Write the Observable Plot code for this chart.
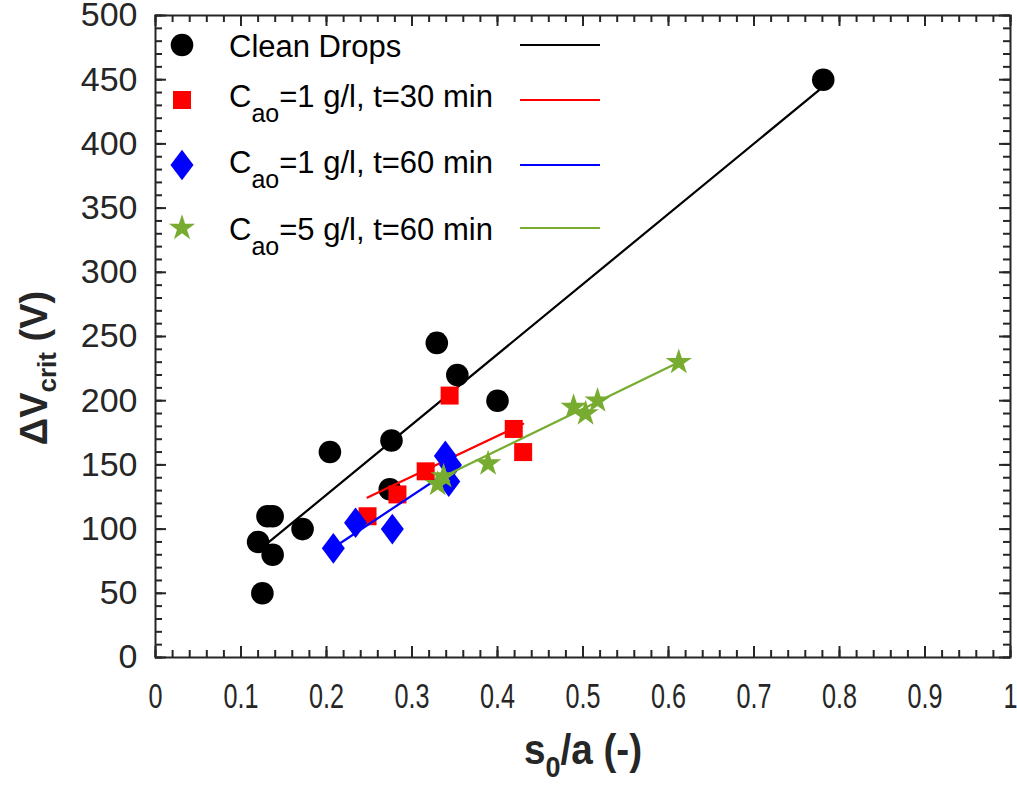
<!DOCTYPE html>
<html><head><meta charset="utf-8">
<script src="https://cdn.jsdelivr.net/npm/d3@7"></script>
<script src="https://cdn.jsdelivr.net/npm/@observablehq/plot@0.6"></script>
<style>body{margin:0;background:#fff;font-family:"Liberation Sans",Arial,sans-serif}</style>
</head><body><div id="chart"></div><script>
// ---- data ----
const cleanX = [0.781, 0.329, 0.353, 0.400, 0.204, 0.276, 0.274, 0.131, 0.137, 0.172, 0.120, 0.137, 0.125];
const cleanY = [450, 245, 220, 200, 160, 169, 131, 110, 110, 100, 90, 80, 50];
const c1t30X = [0.344, 0.419, 0.430, 0.316, 0.283, 0.248];
const c1t30Y = [204, 178, 160, 145, 127, 110];
const c1t60X = [0.208, 0.234, 0.277, 0.339, 0.345, 0.343];
const c1t60Y = [85, 105, 100, 157, 150, 137];
const c5t60X = [0.612, 0.517, 0.489, 0.503, 0.389, 0.330, 0.337];
const c5t60Y = [230, 200, 195, 190, 151, 135, 141];
// fitted lines (end points)
const cleanFitX = [0.12, 0.78], cleanFitY = [83, 444];
const c1t30FitX = [0.248, 0.43], c1t30FitY = [124.6, 182];
const c1t60FitX = [0.208, 0.345], c1t60FitY = [85.5, 146];
const c5t60FitX = [0.325, 0.612], c5t60FitY = [137, 230];
// ticks
const xTicks = [0, 0.1, 0.2, 0.3, 0.4, 0.5, 0.6, 0.7, 0.8, 0.9, 1];
const xTickLabels = ["0", "0.1", "0.2", "0.3", "0.4", "0.5", "0.6", "0.7", "0.8", "0.9", "1"];
const yTicks = [0, 50, 100, 150, 200, 250, 300, 350, 400, 450, 500];
const xMinor = d3.range(0, 51).map(i => i / 50);
const yMinor = d3.range(0, 51).map(i => i * 10);

const seriesNames = ["Clean Drops", "C_ao=1 g/l, t=30 min", "C_ao=1 g/l, t=60 min", "C_ao=5 g/l, t=60 min"];
const colors = ["#000000", "#ff0000", "#0000ff", "#77ac30"];

// ---- symbols ----
const squareSym = {draw(ctx, size) { const r = Math.sqrt(size / Math.PI); ctx.rect(-r, -r, 2 * r, 2 * r); }};
const diamondSym = {draw(ctx, size) { const r = Math.sqrt(size / Math.PI); ctx.moveTo(0, -r * 1.33); ctx.lineTo(r, 0); ctx.lineTo(0, r * 1.33); ctx.lineTo(-r, 0); ctx.closePath(); }};
const starSym = {draw(ctx, size) { const R = Math.sqrt(size / Math.PI), ri = R * 0.382;
  for (let i = 0; i < 10; i++) { const a = -Math.PI / 2 + i * Math.PI / 5, rr = i % 2 ? ri : R;
    if (i) ctx.lineTo(rr * Math.cos(a), rr * Math.sin(a)); else ctx.moveTo(rr * Math.cos(a), rr * Math.sin(a)); }
  ctx.closePath(); }};
const circleSym = {draw(ctx, size) { const r = Math.sqrt(size / Math.PI); ctx.moveTo(r, 0); ctx.arc(0, 0, r, 0, 2 * Math.PI); }};
const symbols = [circleSym, squareSym, diamondSym, starSym];
const radii = [11.3, 9, 11.5, 13.8];

const pts = (xs, ys) => xs.map((x, i) => ({x, y: ys[i]}));
const series = [
  [pts(cleanX, cleanY), pts(cleanFitX, cleanFitY)],
  [pts(c1t30X, c1t30Y), pts(c1t30FitX, c1t30FitY)],
  [pts(c1t60X, c1t60Y), pts(c1t60FitX, c1t60FitY)],
  [pts(c5t60X, c5t60Y), pts(c5t60FitX, c5t60FitY)]
];

const W = 1017, H = 788, mL = 155, mR = 7, mT = 15, mB = 131;
const fw = W - mL - mR, fh = H - mT - mB;
const axisColor = "#262626";
const marks = [];
// inward ticks on all four sides (full-frame ticks trimmed by insets)
const tk = {stroke: axisColor, strokeWidth: 2};
for (const [ticks, len] of [[xMinor, 7], [xTicks, 11]]) {
  marks.push(Plot.tickX(ticks, {...tk, x: d => d, insetTop: fh - len}));
  marks.push(Plot.tickX(ticks, {...tk, x: d => d, insetBottom: fh - len}));
}
for (const [ticks, len] of [[yMinor, 7], [yTicks, 11]]) {
  marks.push(Plot.tickY(ticks, {...tk, y: d => d, insetRight: fw - len}));
  marks.push(Plot.tickY(ticks, {...tk, y: d => d, insetLeft: fw - len}));
}
marks.push(Plot.axisX(xTicks, {anchor: "bottom", tickSize: 0, tickPadding: 25, tickFormat: (d, i) => xTickLabels[i], fontSize: 36, fill: axisColor, label: null}));
marks.push(Plot.axisY(yTicks, {anchor: "left", tickSize: 0, tickPadding: 18, tickFormat: d => String(d), fontSize: 34, fill: axisColor, label: null}));
series.forEach(([p, f], i) => {
  marks.push(Plot.dot(p, {x: "x", y: "y", r: radii[i], symbol: symbols[i], fill: colors[i], stroke: "none"}));
  marks.push(Plot.line(f, {x: "x", y: "y", stroke: colors[i], strokeWidth: 2.2}));
});
marks.push(Plot.frame({stroke: axisColor, strokeWidth: 2}));

const chart = Plot.plot({
  width: W, height: H,
  marginLeft: mL, marginRight: mR, marginTop: mT, marginBottom: mB,
  x: {domain: [0, 1]}, y: {domain: [0, 500]},
  style: {fontFamily: "'Liberation Sans', Arial, sans-serif", background: "white", overflow: "visible"},
  marks
});
document.getElementById("chart").appendChild(chart);

const svg = d3.select(chart);
// condensed x tick labels
svg.selectAll('g[aria-label="x-axis tick label"] text').each(function () {
  const t = d3.select(this); t.attr("transform", (t.attr("transform") || "") + " scale(0.7,1)");
});

// axis titles
const ylab = svg.append("text").attr("transform", "translate(47,368) rotate(-90)")
  .attr("text-anchor", "middle").attr("font-weight", "bold").attr("font-size", 38).attr("fill", axisColor);
ylab.append("tspan").text("\u0394V");
ylab.append("tspan").attr("font-size", 26).attr("dy", 9).text("crit");
ylab.append("tspan").attr("dy", -9).text(" (V)");

const xlab = svg.append("text").attr("transform", "translate(583,764) scale(0.9,1)")
  .attr("text-anchor", "middle").attr("font-weight", "bold").attr("font-size", 43).attr("fill", axisColor);
xlab.append("tspan").text("s");
xlab.append("tspan").attr("font-size", 30).attr("dy", 13).text("0");
xlab.append("tspan").attr("dy", -13).text("/a (-)");

// legend (inside the axes)
const rowSym = [45, 100, 165, 228], rowBase = [57, 107, 173, 240];
const leg = svg.append("g").attr("text-anchor", "start");
seriesNames.forEach((name, i) => {
  const path = d3.path(); symbols[i].draw(path, Math.PI * radii[i] * radii[i]);
  leg.append("path").attr("d", path.toString()).attr("transform", `translate(182,${rowSym[i]})`).attr("fill", colors[i]);
  leg.append("line").attr("x1", 520).attr("x2", 600).attr("y1", rowSym[i]).attr("y2", rowSym[i]).attr("stroke", colors[i]).attr("stroke-width", 2.2);
  const t = leg.append("text").attr("x", 229).attr("y", rowBase[i]).attr("font-size", 31).attr("fill", "#000").attr("text-anchor", "start");
  if (name.startsWith("C_ao")) {
    t.append("tspan").text("C");
    t.append("tspan").attr("font-size", 25).attr("dy", 15).text("ao");
    t.append("tspan").attr("dy", -15).text(name.slice(4));
  } else t.text(name);
});
</script></body></html>
